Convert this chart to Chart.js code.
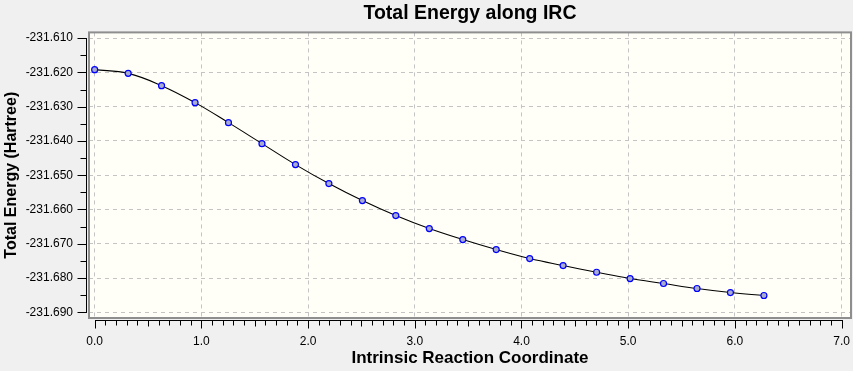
<!DOCTYPE html>
<html>
<head>
<meta charset="utf-8">
<script src="https://cdn.jsdelivr.net/npm/chart.js@4.4.1/dist/chart.umd.min.js"></script>
<style>
  html, body { margin: 0; padding: 0; background: #f0f0f0; }
  #wrap { width: 853px; height: 371px; }
</style>
</head>
<body>
<div id="wrap"><canvas id="ircChart" width="853" height="371"></canvas></div>
<script>
// IRC points
const ircCoord = [0.000, 0.314, 0.627, 0.941, 1.254, 1.568, 1.882, 2.195, 2.509, 2.822, 3.136,
                  3.450, 3.763, 4.077, 4.390, 4.704, 5.018, 5.331, 5.645, 5.958, 6.272];
const totalEnergy = [-231.61921, -231.62029, -231.62388, -231.62883, -231.63467, -231.64079,
                     -231.64691, -231.65245, -231.65741, -231.66178, -231.66557, -231.66878,
                     -231.67169, -231.67431, -231.67636, -231.67831, -231.68015, -231.68160,
                     -231.68306, -231.68423, -231.68510];
const xTicks = [0, 1, 2, 3, 4, 5, 6, 7];
const yTicks = [-231.610, -231.620, -231.630, -231.640, -231.650, -231.660, -231.670, -231.680, -231.690];

Chart.defaults.font.family = '"Liberation Sans", Arial, sans-serif';
Chart.defaults.color = '#000';

// plot background, frame and the offset axes with minor ticks
const frame = {
    id: 'frame',
    beforeDraw(chart) {
        const { ctx, chartArea: a } = chart;
        ctx.save();
        ctx.fillStyle = '#f0f0f0';
        ctx.fillRect(0, 0, chart.width, chart.height);
        ctx.fillStyle = '#fffff7';
        ctx.fillRect(a.left, a.top, a.right - a.left, a.bottom - a.top);
        ctx.restore();
    },
    afterDraw(chart) {
        const { ctx, chartArea: a, scales: { x, y } } = chart;
        ctx.save();
        ctx.strokeStyle = '#8e8e8e';
        ctx.lineWidth = 2;
        ctx.strokeRect(a.left, a.top, a.right - a.left, a.bottom - a.top);

        ctx.strokeStyle = '#000';
        ctx.lineWidth = 1;
        ctx.beginPath();
        // y axis
        const ax = a.left - 2.5;
        const yTop = y.getPixelForValue(yTicks[0]);
        const yBot = y.getPixelForValue(yTicks[yTicks.length - 1]);
        ctx.moveTo(ax, Math.round(yTop)); ctx.lineTo(ax, Math.round(yBot) + 1);
        for (let i = 0; i < yTicks.length; i++) {
            const py = Math.round(y.getPixelForValue(yTicks[i])) + 0.5;
            ctx.moveTo(ax, py); ctx.lineTo(ax - 9, py);
            if (i < yTicks.length - 1) {
                const my = Math.round(y.getPixelForValue((yTicks[i] + yTicks[i + 1]) / 2)) + 0.5;
                ctx.moveTo(ax, my); ctx.lineTo(ax - 6, my);
            }
        }
        // x axis
        const ay = a.bottom + 2.5;
        const xL = x.getPixelForValue(xTicks[0]);
        const xR = x.getPixelForValue(xTicks[xTicks.length - 1]);
        ctx.moveTo(Math.round(xL), ay); ctx.lineTo(Math.round(xR) + 1, ay);
        for (let i = 0; i < xTicks.length; i++) {
            const px = Math.round(x.getPixelForValue(xTicks[i])) + 0.5;
            ctx.moveTo(px, ay); ctx.lineTo(px, ay + 8);
            if (i < xTicks.length - 1) {
                for (let k = 1; k < 10; k++) {
                    const mx = Math.round(x.getPixelForValue(xTicks[i] + k / 10)) + 0.5;
                    ctx.moveTo(mx, ay); ctx.lineTo(mx, ay + (k === 5 ? 6 : 5));
                }
            }
        }
        ctx.stroke();
        ctx.restore();
    }
};

const ctx = document.getElementById('ircChart').getContext('2d');
new Chart(ctx, {
    type: 'line',
    data: {
        datasets: [{
            label: 'Total Energy',
            data: ircCoord.map((c, i) => ({ x: c, y: totalEnergy[i] })),
            borderColor: '#000000',
            borderWidth: 1.1,
            tension: 0.4,
            pointRadius: 3,
            pointBackgroundColor: '#a9adc9',
            pointBorderColor: '#0000ff',
            pointBorderWidth: 1.2
        }]
    },
    options: {
        responsive: false,
        animation: false,
        layout: { autoPadding: false, padding: { left: 0, right: 2, top: 0, bottom: 0 } },
        plugins: {
            legend: { display: false },
            tooltip: { enabled: false },
            title: {
                display: true,
                text: 'Total Energy along IRC',
                fullSize: false,
                color: '#000',
                font: { size: 19.5, weight: 'bold' },
                padding: { top: 2, bottom: 7 }
            }
        },
        scales: {
            x: {
                type: 'linear',
                min: -0.053,
                max: 7.088,
                afterBuildTicks: s => { s.ticks = xTicks.map(v => ({ value: v })); },
                afterFit: s => { s.height = 53; s.paddingLeft = 0; s.paddingRight = 0; },
                grid: { color: '#c4c4c4', drawTicks: false },
                border: { display: false, dash: [4, 4] },
                ticks: { padding: 16, font: { size: 12 }, callback: v => v.toFixed(1) },
                title: {
                    display: true,
                    text: 'Intrinsic Reaction Coordinate',
                    font: { size: 17, weight: 'bold' },
                    padding: { top: 0, bottom: 2 }
                }
            },
            y: {
                min: -231.69166,
                max: -231.60834,
                afterBuildTicks: s => { s.ticks = yTicks.map(v => ({ value: v })); },
                afterFit: s => { s.width = 89; s.paddingTop = 0; s.paddingBottom = 0; },
                grid: { color: '#c4c4c4', drawTicks: false },
                border: { display: false, dash: [4, 4] },
                ticks: { padding: 16, font: { size: 12 }, callback: v => v.toFixed(3) },
                title: {
                    display: true,
                    text: 'Total Energy (Hartree)',
                    font: { size: 16, weight: 'bold' },
                    padding: { top: 2, bottom: 0 }
                }
            }
        }
    },
    plugins: [frame]
});
</script>
</body>
</html>
